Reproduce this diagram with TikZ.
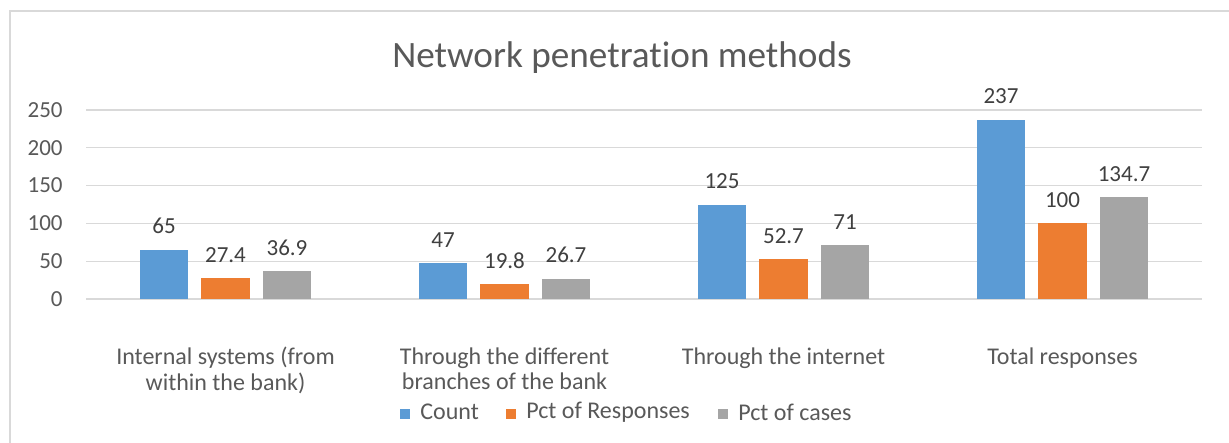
\documentclass[tikz,border=0pt]{standalone}
\usepackage{fontspec}
\setmainfont{Carlito}[Ligatures=NoCommon]
\definecolor{cblue}{HTML}{5B9BD5}
\definecolor{corange}{HTML}{ED7D31}
\definecolor{cgray}{HTML}{A5A5A5}
\definecolor{grid}{HTML}{D9D9D9}
\definecolor{txt}{HTML}{595959}
\definecolor{vtxt}{HTML}{404040}
\tikzset{
  axislabel/.style={text=txt, font=\fontsize{11.5}{12.5}\selectfont, inner sep=0pt},
  catlabel/.style={text=txt, font=\fontsize{12}{12.7}\selectfont, inner sep=0pt, align=center, anchor=north},
  legendlabel/.style={text=txt, font=\fontsize{12}{12.7}\selectfont, inner sep=0pt, anchor=west},
  vallabel/.style={text=vtxt, font=\fontsize{11.5}{12.5}\selectfont, inner sep=0pt, anchor=base},
  gridline/.style={draw=grid, line width=0.7pt},
}
\begin{document}
\begin{tikzpicture}[x=0.5pt, y=-0.5pt]
\useasboundingbox (0,0) rectangle (1229,443);
\fill[white] (0,0) rectangle (1229,443);
% chart frame (only top and left visible)
\draw[draw=grid, line width=0.8pt] (10,460) -- (10,11) -- (1240,11);
% title
\node[text=txt, font=\fontsize{18.6}{20}\selectfont, anchor=base, inner sep=0pt] (title) at (622,68) {Network penetration methods};
% gridlines and y labels
\foreach \k/\v in {0/0,1/50,2/100,3/150,4/200,5/250} {
  \draw[gridline] (86,{299-37.8*\k}) -- (1202,{299-37.8*\k});
  \node[axislabel, anchor=east] (y\v) at (63,{299-37.8*\k}) {\v};
}
% bars
\foreach \i/\a/\b/\c in {0/65/27.4/36.9, 1/47/19.8/26.7, 2/125/52.7/71, 3/237/100/134.7} {
  \pgfmathsetmacro\cx{86+279*(\i+0.5)}
  \fill[cblue] ({\cx-61.5-24.25},299) rectangle ({\cx-61.5+24.25},{299-0.756*\a});
  \fill[corange] ({\cx-24.25},299) rectangle ({\cx+24.25},{299-0.756*\b});
  \fill[cgray] ({\cx+61.5-24.25},299) rectangle ({\cx+61.5+24.25},{299-0.756*\c});
  \node[vallabel] (va\i) at ({\cx-61.5},{299-0.756*\a-16}) {\a};
  \node[vallabel] (vb\i) at ({\cx},{299-0.756*\b-16}) {\b};
  \node[vallabel] (vc\i) at ({\cx+61.5},{299-0.756*\c-16}) {\c};
}
% category labels
\node[catlabel] (cat0) at (225.5,347) {Internal systems (from\\within the bank)};
\node[catlabel] (cat1) at (504.5,347) {Through the different\\branches of the bank};
\node[catlabel] (cat2) at (783.5,347) {Through the internet};
\node[catlabel] (cat3) at (1062.5,347) {Total responses};
% legend
\fill[cblue] (400,409) rectangle (410,419);
\node[legendlabel] (lg1) at (420,412) {Count};
\fill[corange] (506,409) rectangle (516,419);
\node[legendlabel] (lg2) at (526,412) {Pct of Responses};
\fill[cgray] (718,409) rectangle (728,419);
\node[legendlabel] (lg3) at (738,412) {Pct of cases};
\end{tikzpicture}
\end{document}
